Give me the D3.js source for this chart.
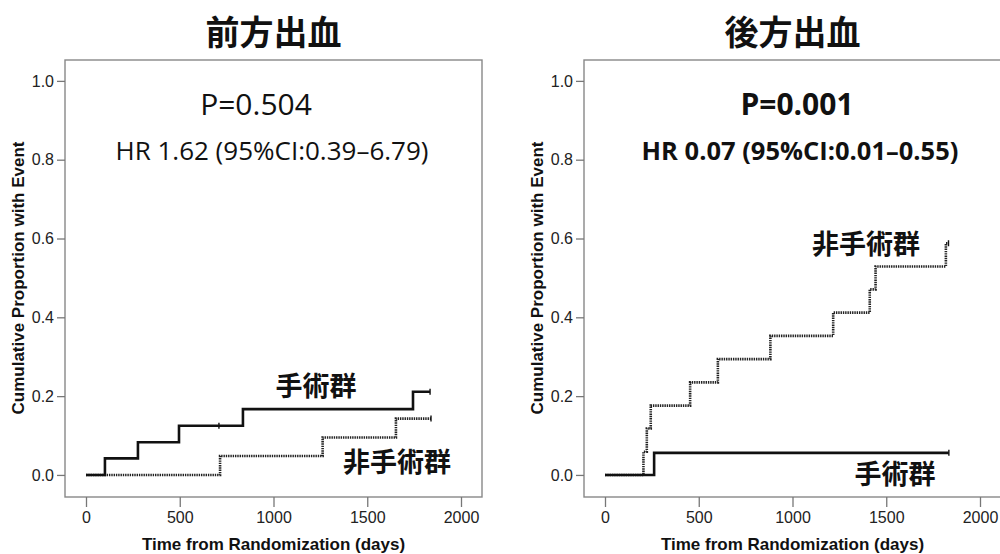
<!DOCTYPE html>
<html>
<head>
<meta charset="utf-8">
<script src="https://cdn.jsdelivr.net/npm/d3@7/dist/d3.min.js"></script>
<style>
  body { margin: 0; background: #fff; }
  svg { display: block; }
</style>
</head>
<body>
<svg width="1000" height="554"></svg>
<script>
// data ======================================================
const timeTicks = [0, 500, 1000, 1500, 2000];
const propTicks = [0, 0.2, 0.4, 0.6, 0.8, 1.0];

// anterior bleeding
const antSurgDays = [0, 101, 277, 496, 837, 1744, 1835];
const antSurgProp = [0, 0.042, 0.083, 0.125, 0.167, 0.211, 0.211];
const antSurgCensor = [709, 1835];
const antNonDays = [0, 715, 1262, 1653, 1840];
const antNonProp = [0, 0.048, 0.095, 0.143, 0.143];
const antNonCensor = [1840];

// posterior bleeding
const postSurgDays = [0, 262, 1834];
const postSurgProp = [0, 0.056, 0.056];
const postSurgCensor = [1834];
const postNonDays = [0, 205, 223, 244, 454, 602, 882, 1217, 1412, 1443, 1818, 1832];
const postNonProp = [0, 0.059, 0.118, 0.176, 0.235, 0.294, 0.353, 0.412, 0.471, 0.529, 0.588, 0.588];
const postNonCensor = [1832];

const titles = ["前方出血", "後方出血"];
const pLabels = ["P=0.504", "P=0.001"];
const hrLabels = ["HR 1.62 (95%CI:0.39–6.79)", "HR 0.07 (95%CI:0.01–0.55)"];
const groupNames = ["手術群", "非手術群"];

// globals ===================================================
var svg = d3.select("svg");
var cjk = '"Noto Sans CJK JP", sans-serif';
var latin = '"Open Sans", sans-serif';
var arial = '"Liberation Sans", Arial, sans-serif';

function zip(days, prop) {
  return days.map(function(d, i) { return {t: d, p: prop[i]}; });
}

function styleAxis(a) {
  a.select(".domain").remove();
  a.attr("font-family", arial).attr("font-size", 16);
  a.selectAll(".tick line").attr("stroke", "#777").attr("stroke-width", 1.3);
  a.selectAll(".tick text").attr("fill", "#222");
}

// draws one panel
function drawPanel(opt) {
  var x = d3.scaleLinear().domain([-112, 2112]).range([opt.left, opt.right]);
  var y = d3.scaleLinear().domain([-0.056, 1.053]).range([497, 60]);
  var g = svg.append("g");

  g.append("rect")
    .attr("x", opt.left).attr("y", 60)
    .attr("width", opt.right - opt.left).attr("height", 437)
    .attr("fill", "none").attr("stroke", "#888").attr("stroke-width", 1.4);

  g.append("g")
    .attr("transform", "translate(" + opt.left + ",0)")
    .call(d3.axisLeft(y).tickValues(propTicks).tickFormat(d3.format(".1f")).tickSize(8).tickPadding(3))
    .call(styleAxis);

  g.append("g")
    .attr("transform", "translate(0,497)")
    .call(d3.axisBottom(x).tickValues(timeTicks).tickFormat(d3.format("d")).tickSize(10).tickPadding(5))
    .call(styleAxis);

  var line = d3.line()
    .x(function(d) { return x(d.t); })
    .y(function(d) { return y(d.p); })
    .curve(d3.curveStepAfter);

  // non-surgery, dotted
  g.append("path")
    .datum(zip(opt.nonDays, opt.nonProp))
    .attr("d", line)
    .attr("fill", "none").attr("stroke", "#222")
    .attr("stroke-width", 2.6).attr("stroke-dasharray", "1.4,0.9");

  // surgery, solid
  g.append("path")
    .datum(zip(opt.surgDays, opt.surgProp))
    .attr("d", line)
    .attr("fill", "none").attr("stroke", "#111").attr("stroke-width", 2.6);

  // censor marks
  function censor(days, tArr, pArr) {
    days.forEach(function(c) {
      var idx = d3.bisectRight(tArr, c) - 1;
      var py = y(pArr[idx]);
      g.append("line")
        .attr("x1", x(c)).attr("x2", x(c))
        .attr("y1", py - 3).attr("y2", py + 3)
        .attr("stroke", "#111").attr("stroke-width", 1.4);
    });
  }
  censor(opt.surgCensor, opt.surgDays, opt.surgProp);
  censor(opt.nonCensor, opt.nonDays, opt.nonProp);

  var cx = (opt.left + opt.right) / 2;

  svg.append("text")
    .attr("x", cx).attr("y", 45).attr("text-anchor", "middle")
    .attr("font-family", cjk).attr("font-weight", "bold").attr("font-size", 34)
    .attr("fill", "#111")
    .text(opt.title);

  g.append("text")
    .attr("x", opt.pX).attr("y", 115).attr("text-anchor", "middle")
    .attr("font-family", latin).attr("font-weight", opt.bold ? "bold" : "normal")
    .attr("font-size", 30).attr("fill", "#111")
    .text(opt.p);

  g.append("text")
    .attr("x", opt.hrX).attr("y", 160).attr("text-anchor", "middle")
    .attr("font-family", latin).attr("font-weight", opt.bold ? "bold" : "normal")
    .attr("font-size", opt.bold ? 25.5 : 26).attr("fill", "#111")
    .text(opt.hr);

  opt.labels.forEach(function(l) {
    g.append("text")
      .attr("x", l.x).attr("y", l.y).attr("text-anchor", "middle")
      .attr("font-family", cjk).attr("font-weight", "bold").attr("font-size", 27)
      .attr("fill", "#111")
      .text(l.text);
  });

  g.append("text")
    .attr("transform", "translate(" + opt.yLabelX + ",278) rotate(-90)")
    .attr("text-anchor", "middle")
    .attr("font-family", arial).attr("font-weight", "bold").attr("font-size", 17)
    .attr("fill", "#111")
    .text("Cumulative Proportion with Event");

  g.append("text")
    .attr("x", x(1000)).attr("y", 550).attr("text-anchor", "middle")
    .attr("font-family", arial).attr("font-weight", "bold").attr("font-size", 17)
    .attr("fill", "#111")
    .text("Time from Randomization (days)");
}

// main ======================================================
drawPanel({
  left: 65, right: 482, title: titles[0], p: pLabels[0], hr: hrLabels[0], bold: false,
  pX: 256, hrX: 272, yLabelX: 24,
  surgDays: antSurgDays, surgProp: antSurgProp, surgCensor: antSurgCensor,
  nonDays: antNonDays, nonProp: antNonProp, nonCensor: antNonCensor,
  labels: [{text: groupNames[0], x: 316, y: 396}, {text: groupNames[1], x: 397, y: 472}]
});

drawPanel({
  left: 584, right: 1001, title: titles[1], p: pLabels[1], hr: hrLabels[1], bold: true,
  pX: 797, hrX: 800, yLabelX: 543,
  surgDays: postSurgDays, surgProp: postSurgProp, surgCensor: postSurgCensor,
  nonDays: postNonDays, nonProp: postNonProp, nonCensor: postNonCensor,
  labels: [{text: groupNames[1], x: 866, y: 254}, {text: groupNames[0], x: 895, y: 484}]
});
</script>
</body>
</html>
